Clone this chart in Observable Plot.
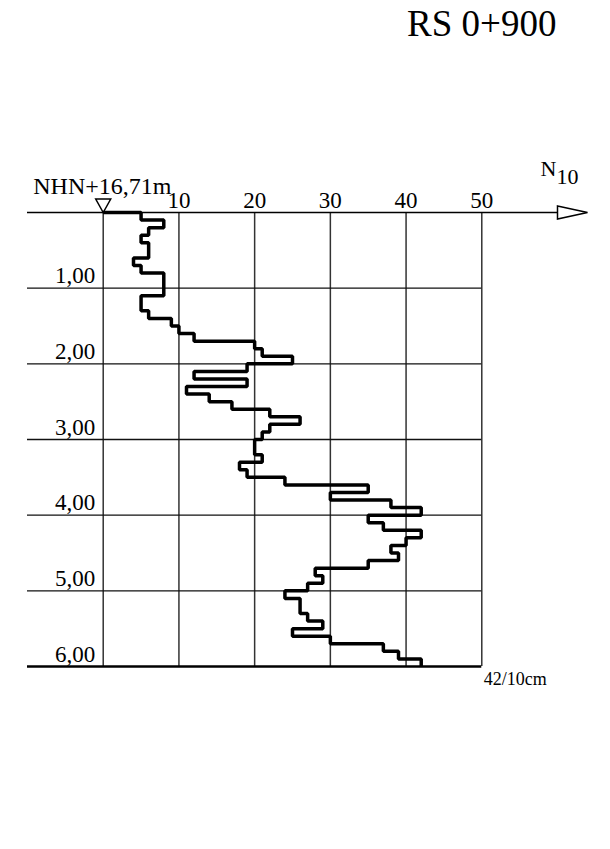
<!DOCTYPE html>
<html>
<head>
<meta charset="utf-8">
<script src="https://cdn.jsdelivr.net/npm/d3@7"></script>
<script src="https://cdn.jsdelivr.net/npm/@observablehq/plot@0.6"></script>
<style>
  html, body { margin: 0; padding: 0; background: #fff; }
  #chart svg { display: block; }
</style>
</head>
<body>
<div id="chart"></div>
<script>
// ---- data ----
const title = "RS 0+900";
const datumLabel = "NHN+16,71m";
const axisName = "N";
const axisSub = "10";
const stepM = 0.1; // one value per 10 cm
// blow counts N10 per 10 cm, from 0,00 m down to 6,00 m
const n10 = [
  5, 8, 6, 5, 6, 6, 4, 5, 8, 8,
  8, 5, 5, 6, 9, 10, 12, 20, 21, 25,
  19, 12, 19, 11, 14, 17, 22, 26, 22, 21,
  20, 20, 21, 18, 19, 24, 35, 30, 38, 42,
  35, 37, 42, 40, 38, 39, 35, 28, 29, 27,
  24, 26, 26, 27, 29, 25, 30, 37, 39, 42
];
const xGrid = [0, 10, 20, 30, 40, 50];
const xTickLabels = [10, 20, 30, 40, 50];
const depthGrid = [1, 2, 3, 4, 5];
const depthBottom = 6;
const depthTicks = [1, 2, 3, 4, 5, 6];
const depthTickLabels = ["1,00", "2,00", "3,00", "4,00", "5,00", "6,00"];
const lastLabel = `${n10[n10.length - 1]}/10cm`;

// ---- derived table ----
const profile = [{x: 0, y: 0}].concat(
  n10.map((v, i) => ({x: v, y: +((i + 1) * stepM).toFixed(2)}))
);
const depthLabelRows = depthTicks.map((d, i) => ({d, label: depthTickLabels[i]}));

const serif = "'Liberation Serif', 'Times New Roman', serif";

// custom symbols
const arrowHead = {
  draw(ctx) { ctx.moveTo(0, -6.5); ctx.lineTo(30, 0); ctx.lineTo(0, 6.5); ctx.closePath(); }
};
const datumMark = {
  draw(ctx) { ctx.moveTo(-7.5, -13.5); ctx.lineTo(7.5, -13.5); ctx.lineTo(0, 0); ctx.closePath(); }
};

const chart = Plot.plot({
  width: 610,
  height: 849,
  marginLeft: 27,
  marginRight: 53,
  marginTop: 212,
  marginBottom: 183,
  style: {background: "#fff", fontFamily: serif},
  x: {domain: [-10, 60], axis: null},
  y: {domain: [0, 6], reverse: true, axis: null},
  marks: [
    // vertical grid
    Plot.ruleX(xGrid, {y1: 0, y2: depthBottom, stroke: "#333", strokeWidth: 1.5}),
    // horizontal depth lines
    Plot.ruleY(depthGrid, {x1: -10, x2: 50, stroke: "#111", strokeWidth: 1.4}),
    Plot.ruleY([depthBottom], {x1: -10, x2: 50, stroke: "#000", strokeWidth: 2.5}),
    // top axis line with arrow
    Plot.ruleY([0], {x1: -10, x2: 60, stroke: "#000", strokeWidth: 1.5}),
    Plot.dot([{x: 60, y: 0}], {x: "x", y: "y", symbol: arrowHead, fill: "#fff", stroke: "#000", strokeWidth: 1.5}),
    // datum triangle
    Plot.dot([{x: 0, y: 0}], {x: "x", y: "y", symbol: datumMark, fill: "#fff", stroke: "#000", strokeWidth: 1.5}),
    // profile
    Plot.line(profile, {x: "x", y: "y", curve: "step-after", stroke: "#000", strokeWidth: 3.5, strokeLinejoin: "miter", strokeLinecap: "butt"}),
    // x tick labels
    Plot.text(xTickLabels, {x: d => d, y: 0, dy: -5, text: d => String(d), textAnchor: "middle", lineAnchor: "bottom", fontSize: 23, fontFamily: serif, fill: "#000"}),
    // depth labels
    Plot.text(depthLabelRows, {x: 0, y: "d", dx: -8, dy: -5, text: "label", textAnchor: "end", lineAnchor: "bottom", fontSize: 23, fontFamily: serif, fill: "#000"}),
    // datum label
    Plot.text([datumLabel], {x: 0, y: 0, dx: -70, dy: -19, text: d => d, textAnchor: "start", lineAnchor: "bottom", fontSize: 24, fontFamily: serif, fill: "#000"}),
    // axis name N10
    Plot.text([axisName], {x: 60, y: 0, dx: -17, dy: -37, text: d => d, textAnchor: "start", lineAnchor: "bottom", fontSize: 22, fontFamily: serif, fill: "#000"}),
    Plot.text([axisSub], {x: 60, y: 0, dx: -1, dy: -29, text: d => d, textAnchor: "start", lineAnchor: "bottom", fontSize: 22, fontFamily: serif, fill: "#000"}),
    // last value label
    Plot.text([lastLabel], {x: 50, y: depthBottom, dx: 2, dy: 18, text: d => d, textAnchor: "start", lineAnchor: "bottom", fontSize: 18, fontFamily: serif, fill: "#000"}),
    // title
    Plot.text([title], {x: 50, y: 0, dy: -177, text: d => d, textAnchor: "middle", lineAnchor: "bottom", fontSize: 37, fontFamily: serif, fill: "#000"})
  ]
});
document.getElementById("chart").appendChild(chart);
</script>
</body>
</html>
